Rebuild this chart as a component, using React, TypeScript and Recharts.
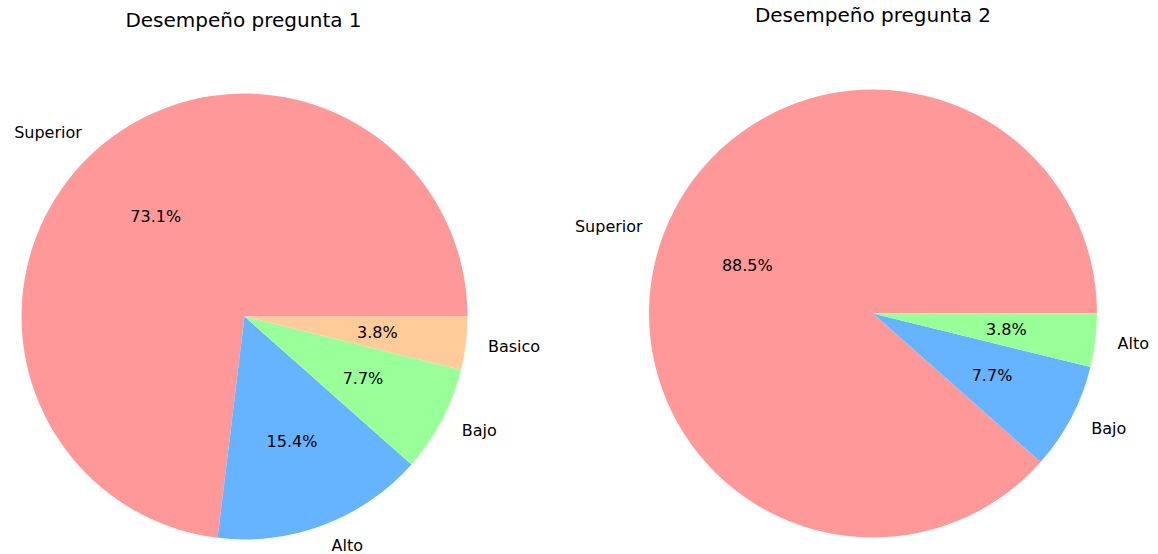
import React from "react"
import { PieChart, Pie, Cell } from "recharts"

// pregunta 1
const names1 = ["Superior", "Alto", "Bajo", "Basico"]
const values1 = [19, 4, 2, 1]
const colors1 = ["#ff9999", "#66b3ff", "#99ff99", "#ffcc99"]

// pregunta 2
const names2 = ["Superior", "Bajo", "Alto"]
const values2 = [23, 2, 1]
const colors2 = ["#ff9999", "#66b3ff", "#99ff99"]

const titles = ["Desempeño pregunta 1", "Desempeño pregunta 2"]

const FONT = "'DejaVu Sans', sans-serif"
const RADIAN = Math.PI / 180

const data1 = names1.map((name, i) => ({ name, value: values1[i] }))
const data2 = names2.map((name, i) => ({ name, value: values2[i] }))

// etiquetas como matplotlib: nombre a 1.1r, porcentaje a 0.6r
function renderLabel(props: any) {
  const { cx, cy, midAngle, outerRadius, percent, name } = props
  const c = Math.cos(-midAngle * RADIAN)
  const s = Math.sin(-midAngle * RADIAN)
  const lx = cx + outerRadius * 1.1 * c
  const ly = cy + outerRadius * 1.1 * s
  const px = cx + outerRadius * 0.6 * c
  const py = cy + outerRadius * 0.6 * s
  return (
    <g>
      <text
        x={lx}
        y={ly}
        textAnchor={c > 0 ? "start" : "end"}
        dominantBaseline="central"
        fontFamily={FONT}
        fontSize={16}
        fill="#000"
      >
        {name}
      </text>
      <text
        x={px}
        y={py}
        textAnchor="middle"
        dominantBaseline="central"
        fontFamily={FONT}
        fontSize={16}
        fill="#000"
      >
        {(percent * 100).toFixed(1)}%
      </text>
    </g>
  )
}

export default function App() {
  return (
    <div style={{ position: "absolute", left: 0, top: 0, width: 1158, height: 554, background: "#fff" }}>
      <PieChart width={1158} height={554} margin={{ top: 0, right: 0, bottom: 0, left: 0 }}>
        <Pie
          data={data1}
          dataKey="value"
          nameKey="name"
          cx={244.5}
          cy={316.5}
          outerRadius={223}
          startAngle={0}
          endAngle={360}
          stroke="none"
          label={renderLabel}
          labelLine={false}
          isAnimationActive={false}
        >
          {data1.map((d, i) => (
            <Cell key={d.name} fill={colors1[i]} />
          ))}
        </Pie>
        <Pie
          data={data2}
          dataKey="value"
          nameKey="name"
          cx={873}
          cy={313.5}
          outerRadius={224}
          startAngle={0}
          endAngle={360}
          stroke="none"
          label={renderLabel}
          labelLine={false}
          isAnimationActive={false}
        >
          {data2.map((d, i) => (
            <Cell key={d.name} fill={colors2[i]} />
          ))}
        </Pie>
      </PieChart>
      <svg width={1158} height={554} style={{ position: "absolute", left: 0, top: 0, pointerEvents: "none" }}>
        <text x={243.5} y={27} textAnchor="middle" fontFamily={FONT} fontSize={20} fill="#000">
          {titles[0]}
        </text>
        <text x={873} y={22} textAnchor="middle" fontFamily={FONT} fontSize={20} fill="#000">
          {titles[1]}
        </text>
      </svg>
    </div>
  )
}
